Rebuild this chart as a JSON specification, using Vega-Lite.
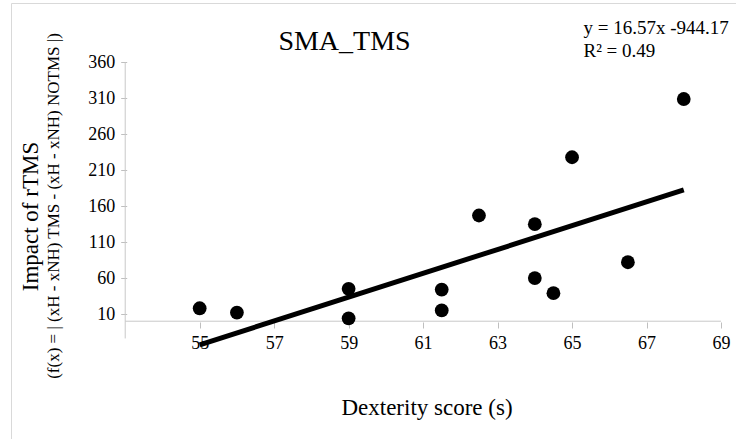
{
  "$schema": "https://vega.github.io/schema/vega-lite/v6.json",
  "width": 725,
  "height": 436,
  "autosize": {"type": "none"},
  "padding": {"left": 11, "top": 3, "right": 0, "bottom": 0},
  "background": "white",
  "config": {
    "view": {"stroke": "#d9d9d9", "strokeWidth": 1},
    "font": "Liberation Serif, serif",
    "axis": {
      "labelFont": "Liberation Serif, serif",
      "titleFont": "Liberation Serif, serif",
      "labelColor": "#000000",
      "titleColor": "#000000",
      "titleFontWeight": "normal",
      "tickColor": "#bfbfbf",
      "grid": false,
      "domain": false
    }
  },
  "title": {
    "text": "SMA_TMS",
    "font": "Liberation Serif, serif",
    "fontSize": 28,
    "fontWeight": "normal",
    "color": "#000000",
    "anchor": "middle",
    "frame": "group",
    "offset": 0,
    "dx": -29,
    "dy": 53
  },
  "datasets": {
    "points": [
      {"dexterity": 55, "impact": 18},
      {"dexterity": 56, "impact": 12},
      {"dexterity": 59, "impact": 45},
      {"dexterity": 59, "impact": 4},
      {"dexterity": 61.5, "impact": 44},
      {"dexterity": 61.5, "impact": 15},
      {"dexterity": 62.5, "impact": 147},
      {"dexterity": 64, "impact": 135},
      {"dexterity": 64, "impact": 60},
      {"dexterity": 64.5, "impact": 39},
      {"dexterity": 65, "impact": 228},
      {"dexterity": 66.5, "impact": 82},
      {"dexterity": 68, "impact": 309}
    ],
    "trend": [
      {"dexterity": 55, "impact": -32.82},
      {"dexterity": 68, "impact": 182.59}
    ],
    "xaxisline": [
      {"from": 53, "to": 69, "at": 0}
    ],
    "yaxisline": [
      {"at": 53, "from": -24, "to": 360}
    ]
  },
  "layer": [
    {
      "data": {"name": "xaxisline"},
      "mark": {"type": "rule", "color": "#c8c8c8", "strokeWidth": 1},
      "encoding": {
        "x": {"field": "from", "type": "quantitative", "scale": {"domain": [49.933, 69.403], "nice": false, "zero": false}, "axis": null},
        "x2": {"field": "to"},
        "y": {"field": "at", "type": "quantitative", "scale": {"domain": [-163.8, 442.5], "nice": false, "zero": false}, "axis": null}
      }
    },
    {
      "data": {"name": "yaxisline"},
      "mark": {"type": "rule", "color": "#c8c8c8", "strokeWidth": 1},
      "encoding": {
        "x": {"field": "at", "type": "quantitative", "scale": {"domain": [49.933, 69.403], "nice": false, "zero": false}, "axis": null},
        "y": {"field": "from", "type": "quantitative", "scale": {"domain": [-163.8, 442.5], "nice": false, "zero": false}, "axis": null},
        "y2": {"field": "to"}
      }
    },
    {
      "data": {"name": "points"},
      "mark": {"type": "circle", "color": "#000000", "opacity": 1, "size": 190},
      "encoding": {
        "x": {
          "field": "dexterity", "type": "quantitative",
          "scale": {"domain": [49.933, 69.403], "nice": false, "zero": false},
          "axis": {
            "orient": "bottom", "offset": -117,
            "values": [55, 57, 59, 61, 63, 65, 67, 69],
            "tickSize": 6, "labelFont": "Liberation Serif, serif", "labelFontSize": 18, "labelPadding": 6,
            "title": "Dexterity score (s)", "titleFont": "Liberation Serif, serif", "titleFontSize": 23,
            "titleX": 415.5, "titleY": 92, "titleAlign": "center", "titleBaseline": "alphabetic", "titleAnchor": null
          }
        },
        "y": {
          "field": "impact", "type": "quantitative",
          "scale": {"domain": [-163.8, 442.5], "nice": false, "zero": false},
          "axis": {
            "orient": "left", "offset": -115.7,
            "values": [10, 60, 110, 160, 210, 260, 310, 360],
            "tickSize": 6, "labelFont": "Liberation Serif, serif", "labelFontSize": 18, "labelPadding": 6,
            "title": "Impact of rTMS", "titleFont": "Liberation Serif, serif", "titleFontSize": 23,
            "titleX": -89.7, "titleY": 213, "titleAngle": 270, "titleAlign": "center", "titleBaseline": "alphabetic"
          }
        }
      }
    },
    {
      "data": {"name": "trend"},
      "mark": {"type": "line", "color": "#000000", "strokeWidth": 5},
      "encoding": {
        "x": {
          "field": "dexterity", "type": "quantitative",
          "scale": {"domain": [49.933, 69.403], "nice": false, "zero": false},
          "axis": {
            "orient": "top", "offset": 0, "labels": false, "ticks": false,
            "title": ["y = 16.57x -944.17", "R² = 0.49"], "titleFont": "Liberation Serif, serif", "titleFontSize": 19, "titleLineHeight": 23,
            "titleX": 572, "titleY": 30, "titleAlign": "left", "titleBaseline": "alphabetic", "titleAnchor": null
          }
        },
        "y": {
          "field": "impact", "type": "quantitative",
          "scale": {"domain": [-163.8, 442.5], "nice": false, "zero": false},
          "axis": {
            "orient": "left", "offset": 0, "labels": false, "ticks": false,
            "title": "(f(x) = | (xH - xNH) TMS - (xH - xNH) NOTMS |)", "titleFont": "Liberation Serif, serif", "titleFontSize": 17,
            "titleX": 47.5, "titleY": 202.5, "titleAngle": 270, "titleAlign": "center", "titleBaseline": "alphabetic"
          }
        }
      }
    }
  ],
  "resolve": {"axis": {"x": "independent", "y": "independent"}}
}
